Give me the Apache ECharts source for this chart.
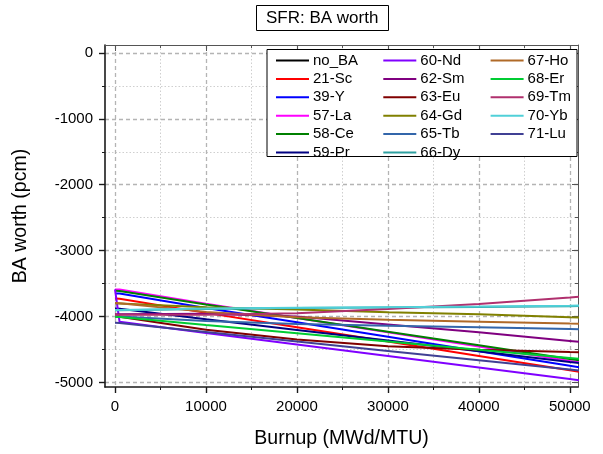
<!DOCTYPE html>
<html>
<head>
<meta charset="utf-8">
<script src="https://cdn.jsdelivr.net/npm/echarts@6/dist/echarts.min.js"></script>
<style>
  html, body { margin: 0; padding: 0; background: #fff; }
  #chart { width: 603px; height: 454px; }
</style>
</head>
<body>
<div id="chart"></div>
<script>
// Burnup steps (MWd/MTU) shared by every curve
const burnup = [0, 500, 10000, 20000, 30000, 40000, 50000, 52000];

// BA worth (pcm) for each burnable absorber
const noBA = [];
const sc21 = [-3727, -3730, -3945, -4163, -4381, -4599, -4817, -4861];
const y39  = [-3650, -3652, -3870, -4089, -4309, -4528, -4748, -4792];
const la57 = [-3589, -3592, -3806, -4023, -4240, -4457, -4674, -4717];
const ce58 = [-3610, -3612, -3817, -4024, -4231, -4438, -4645, -4686];
const pr59 = [-3880, -3882, -4042, -4204, -4366, -4528, -4690, -4722];
const nd60 = [-3590, -4080, -4250, -4425, -4600, -4775, -4950, -4985];
const sm62 = [-3965, -3965, -3960, -4000, -4120, -4240, -4372, -4398];
const eu63 = [-4000, -4005, -4200, -4350, -4450, -4505, -4540, -4546];
const gd64 = [-3800, -3802, -3860, -3895, -3935, -3965, -4010, -4018];
const tb65 = [-4000, -4002, -4070, -4115, -4140, -4165, -4190, -4195];
const dy66 = [-3905, -3905, -3885, -3872, -3865, -3855, -3843, -3840];
const ho67 = [-3795, -3800, -3930, -4010, -4050, -4080, -4108, -4112];
const er68 = [-4005, -4007, -4130, -4255, -4380, -4505, -4630, -4655];
const tm69 = [-3972, -3972, -3975, -3950, -3885, -3810, -3712, -3690];
const yb70 = [-3900, -3900, -3880, -3866, -3858, -3848, -3836, -3833];
const lu71 = [-4095, -4097, -4237, -4380, -4522, -4664, -4805, -4833];

const seriesNames = ['no_BA', '21-Sc', '39-Y', '57-La', '58-Ce', '59-Pr',
  '60-Nd', '62-Sm', '63-Eu', '64-Gd', '65-Tb', '66-Dy',
  '67-Ho', '68-Er', '69-Tm', '70-Yb', '71-Lu'];
const seriesValues = [noBA, sc21, y39, la57, ce58, pr59,
  nd60, sm62, eu63, gd64, tb65, dy66,
  ho67, er68, tm69, yb70, lu71];
const seriesColors = ['#000000', '#ff0000', '#0000ff', '#ff00ff', '#008000', '#000080',
  '#8000ff', '#800080', '#800000', '#808000', '#3366aa', '#2ea0a0',
  '#b06a28', '#00cc33', '#b0306e', '#50d0d8', '#404094'];

// Axis ticks
const xMajorTicks = [0, 10000, 20000, 30000, 40000, 50000];
const xMinorTicks = [5000, 15000, 25000, 35000, 45000];
const yMajorTicks = [0, -1000, -2000, -3000, -4000, -5000];
const yMinorTicks = [-500, -1500, -2500, -3500, -4500];

const FONT = 'Liberation Sans, Arial, sans-serif';
const X_MIN = -1100, X_MAX = 50900;
const Y_MIN = -5070, Y_MAX = 120;

function axisPair(dim, position, major, minor, withLabels, inside) {
  const base = {
    type: 'value', position: position,
    min: dim === 'x' ? X_MIN : Y_MIN,
    max: dim === 'x' ? X_MAX : Y_MAX
  };
  const lineColor = withLabels ? '#1a1a1a' : '#555';
  const a = Object.assign({}, base, {
    axisLine: { show: true, onZero: false, lineStyle: { color: lineColor, width: withLabels ? 1.6 : 1 } },
    axisTick: { show: true, inside: inside, length: 6, customValues: major,
      lineStyle: { color: lineColor, width: withLabels ? 1.4 : 1 } },
    axisLabel: withLabels ? {
      show: true, customValues: major, color: '#000', fontFamily: FONT, fontSize: 15,
      margin: 12, formatter: v => String(v)
    } : { show: false },
    splitLine: withLabels ? { show: true, lineStyle: { color: '#b4b4b4', width: 1.3, type: [4, 3] } } : { show: false }
  });
  const b = Object.assign({}, base, {
    axisLine: { show: false, onZero: false },
    axisTick: { show: true, inside: inside, length: 3, customValues: minor,
      lineStyle: { color: lineColor, width: 1 } },
    axisLabel: { show: false },
    splitLine: withLabels ? { show: true, lineStyle: { color: '#cfcfcf', width: 1, type: [1.5, 2] } } : { show: false }
  });
  return [a, b];
}

const xAxes = [].concat(
  axisPair('x', 'bottom', xMajorTicks, xMinorTicks, true, false),
  axisPair('x', 'top', xMajorTicks, xMinorTicks, false, true)
);
xAxes[0].name = 'Burnup (MWd/MTU)';
xAxes[0].nameLocation = 'middle';
xAxes[0].nameGap = 42;
xAxes[0].nameTextStyle = { fontFamily: FONT, fontSize: 19.5, color: '#000' };

const yAxes = [].concat(
  axisPair('y', 'left', yMajorTicks, yMinorTicks, true, false),
  axisPair('y', 'right', yMajorTicks, yMinorTicks, false, true)
);
yAxes[0].name = 'BA worth (pcm)';
yAxes[0].nameLocation = 'middle';
yAxes[0].nameGap = 74;
yAxes[0].nameTextStyle = { fontFamily: FONT, fontSize: 19.5, color: '#000' };

const series = seriesNames.map((name, i) => ({
  name: name,
  type: 'line',
  xAxisIndex: 0,
  yAxisIndex: 0,
  data: seriesValues[i].map((v, k) => [burnup[k], v]),
  showSymbol: false,
  symbol: 'none',
  clip: true,
  lineStyle: { width: 2, color: seriesColors[i] },
  itemStyle: { color: seriesColors[i] },
  emphasis: { disabled: true },
  z: 2
}));

// Legend laid out in three columns of six rows
const legendCols = [seriesNames.slice(0, 6), seriesNames.slice(6, 12), seriesNames.slice(12)];
const legends = legendCols.map((names, c) => ({
  data: names,
  orient: 'vertical',
  left: 276 + c * 107.3,
  top: 53,
  padding: 0,
  itemWidth: 33,
  itemHeight: 2,
  itemGap: 3.4,
  icon: 'rect',
  selectedMode: false,
  z: 5,
  textStyle: { fontFamily: FONT, fontSize: 15, color: '#000', lineHeight: 15, padding: [0, 0, 0, -1] }
}));

const chart = echarts.init(document.getElementById('chart'), null, { renderer: 'canvas' });
chart.setOption({
  animation: false,
  backgroundColor: '#fff',
  title: {
    text: 'SFR: BA worth',
    left: 256,
    top: 5,
    padding: [5, 10, 4, 10],
    borderColor: '#000',
    borderWidth: 1,
    textStyle: { fontFamily: FONT, fontSize: 17, fontWeight: 'normal', color: '#000' }
  },
  grid: { left: 105, right: 25, top: 45, bottom: 59, containLabel: false },
  xAxis: xAxes,
  yAxis: yAxes,
  legend: legends,
  graphic: [{
    type: 'rect',
    shape: { x: 267, y: 49.5, width: 310, height: 107 },
    style: { fill: '#fff', stroke: '#000', lineWidth: 1 },
    z: 4
  }],
  series: series
});
</script>
</body>
</html>
